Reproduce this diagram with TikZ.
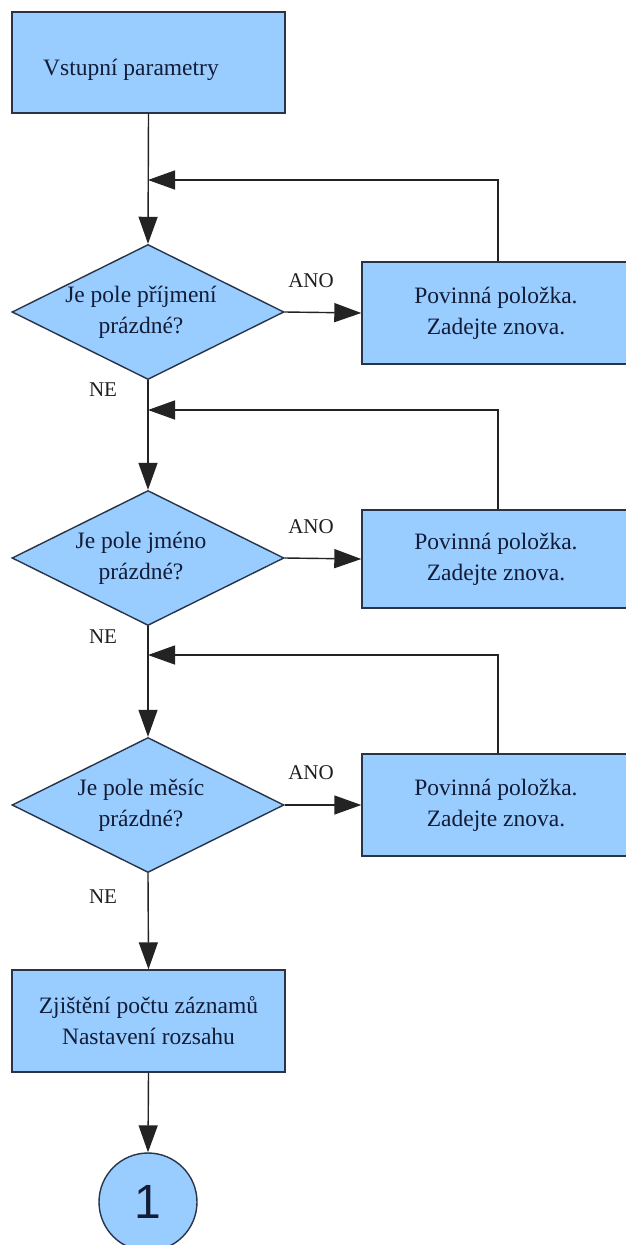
\documentclass[tikz,border=0pt]{standalone}
\usepackage{fontspec}
\setmainfont{Liberation Serif}
\newfontfamily\digitfont{Liberation Sans}
\usetikzlibrary{shapes.geometric,arrows.meta,positioning}
\definecolor{boxfill}{RGB}{153,204,255}
\definecolor{boxline}{RGB}{40,52,72}
\definecolor{boxtext}{RGB}{18,28,55}
\definecolor{wire}{RGB}{35,35,35}
\tikzset{
  proc/.style={rectangle, draw=boxline, fill=boxfill, line width=1.4pt,
    text=boxtext, align=center, inner sep=0pt,
    font=\fontsize{23.5}{31}\selectfont},
  decision/.style={diamond, draw=boxline, fill=boxfill, line width=1.4pt,
    text=boxtext, align=center, inner sep=0pt, aspect=2,
    minimum width=272pt, minimum height=135pt,
    font=\fontsize{23.5}{31}\selectfont},
  connector/.style={circle, draw=boxline, fill=boxfill, line width=1.4pt,
    text=boxtext, minimum size=98pt, inner sep=0pt,
    font=\digitfont\fontsize{48}{48}\selectfont},
  flow/.style={draw=wire, line width=1.4pt,
    -{Triangle[length=27pt,width=19pt]}},
  tag/.style={text=black!88, font=\fontsize{21}{24}\selectfont, inner sep=0pt},
  boxlabel/.style={text=boxtext, inner sep=0pt, font=\fontsize{23.5}{31}\selectfont}
}
\begin{document}
\begin{tikzpicture}[x=1pt,y=-1pt]
\useasboundingbox (0,0) rectangle (626,1245);
\fill[white] (0,0) rectangle (626,1245);

% start block, its caption set slightly low and to the left
\node[proc, minimum width=273pt, minimum height=101pt] (start) at (148.5,62.5) {};
\node[boxlabel, anchor=west] (startlbl) at (43,70) {Vstupní parametry};

% decisions (text sits a little left of the centre line)
\node[decision] (d1) at (148,312) {Je pole příjmení\hspace*{14pt}\\prázdné?\hspace*{14pt}};
\node[decision] (d2) at (148,558) {Je pole jméno\hspace*{14pt}\\prázdné?\hspace*{14pt}};
\node[decision] (d3) at (148,805) {Je pole měsíc\hspace*{14pt}\\prázdné?\hspace*{14pt}};

% error blocks (running off the right edge)
\node[proc, minimum width=268pt, minimum height=102pt] (b1) at (496,313)
  {Povinná položka.\\Zadejte znova.};
\node[proc, minimum width=268pt, minimum height=98pt] (b2) at (496,559)
  {Povinná položka.\\Zadejte znova.};
\node[proc, minimum width=268pt, minimum height=102pt] (b3) at (496,805)
  {Povinná položka.\\Zadejte znova.};

% final blocks
\node[proc, minimum width=273pt, minimum height=102pt] (calc) at (148.5,1021)
  {Zjištění počtu záznamů\\Nastavení rozsahu};
\node[connector] (c1) at (148,1202) {1};

% merge points of the return loops
\coordinate (m1) at (148,180);
\coordinate (m2) at (148,410);
\coordinate (m3) at (148,655);

% main flow
\draw[flow] (start.south) -- (d1.north);
\draw[flow] (d1.south) -- (d2.north);
\draw[flow] (d2.south) -- (d3.north);
\draw[flow] (d3.south) -- (calc.north);
\draw[flow] (calc.south) -- (c1.north);

% yes branches
\draw[flow] (d1.east) -- (b1.west);
\draw[flow] (d2.east) -- (b2.west);
\draw[flow] (d3.east) -- (b3.west);

% return loops
\draw[flow] ([xshift=2pt]b1.north) |- (m1);
\draw[flow] ([xshift=2pt]b2.north) |- (m2);
\draw[flow] ([xshift=2pt]b3.north) |- (m3);

% branch labels
\node[tag] (y1) at (311,281) {ANO};
\node[tag] (y2) at (311,527) {ANO};
\node[tag] (y3) at (311,773) {ANO};
\node[tag] (n1) at (103,390) {NE};
\node[tag] (n2) at (103,637) {NE};
\node[tag] (n3) at (103,897) {NE};
\end{tikzpicture}
\end{document}
